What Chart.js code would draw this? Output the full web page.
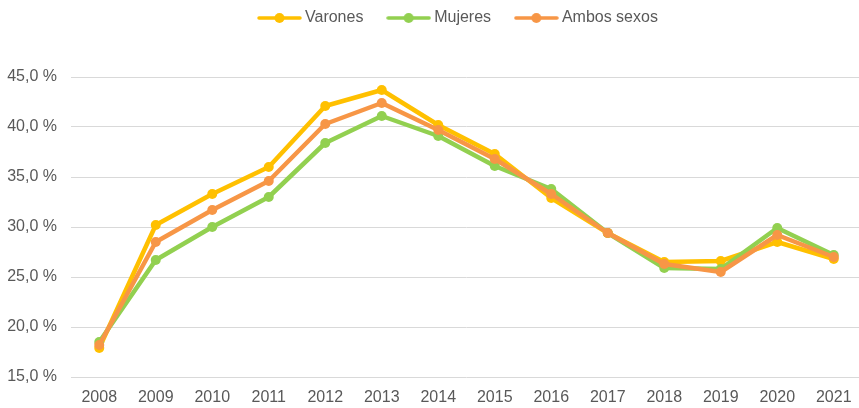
<!DOCTYPE html>
<html>
<head>
<meta charset="utf-8">
<script src="https://cdn.jsdelivr.net/npm/chart.js@4/dist/chart.umd.min.js"></script>
<style>
  html, body { margin: 0; padding: 0; background: #fff; overflow: hidden; }
  #wrap { width: 867px; height: 408px; position: relative; }
</style>
</head>
<body>
<div id="wrap"><canvas id="chart"></canvas></div>
<script>
// Years on the x axis
const years = ['2008', '2009', '2010', '2011', '2012', '2013', '2014',
               '2015', '2016', '2017', '2018', '2019', '2020', '2021'];

// Percentages
const varones = [17.9, 30.2, 33.3, 36.0, 42.1, 43.7, 40.2, 37.3, 32.9, 29.4, 26.5, 26.6, 28.5, 26.8];
const mujeres = [18.5, 26.7, 30.0, 33.0, 38.4, 41.1, 39.1, 36.1, 33.8, 29.4, 25.9, 25.8, 29.9, 27.2];
const ambos   = [18.2, 28.5, 31.7, 34.6, 40.3, 42.4, 39.7, 36.8, 33.3, 29.4, 26.3, 25.5, 29.2, 27.0];

const seriesNames = ['Varones', 'Mujeres', 'Ambos sexos'];
const seriesColors = ['#FFC000', '#92D050', '#F79646'];

// y axis range
const yMin = 15;
const yMax = 45;
const yStep = 5;

const textColor = '#595959';
const fontFamily = '"Liberation Sans", Arial, sans-serif';

// Legend marker: a short line with a dot on it
function legendMarker(color) {
  const c = document.createElement('canvas');
  c.width = 45;
  c.height = 12;
  const g = c.getContext('2d');
  g.strokeStyle = color;
  g.lineWidth = 3.5;
  g.lineCap = 'round';
  g.beginPath();
  g.moveTo(2, 6);
  g.lineTo(43, 6);
  g.stroke();
  g.fillStyle = color;
  g.beginPath();
  g.arc(22.5, 6, 5, 0, Math.PI * 2);
  g.fill();
  return c;
}

// Make room between legend and plot, and place the legend like the original
const legendPlacement = {
  id: 'legendPlacement',
  beforeInit(chart) {
    const fit = chart.legend.fit;
    chart.legend.fit = function () {
      fit.call(this);
      this.height = 77;
    };
  },
  afterLayout(chart) {
    chart.legend.left = 252;
  }
};

const datasets = [varones, mujeres, ambos].map((values, i) => ({
  label: seriesNames[i],
  data: values,
  borderColor: seriesColors[i],
  backgroundColor: seriesColors[i],
  pointBackgroundColor: seriesColors[i],
  pointBorderColor: seriesColors[i],
  borderWidth: 4.5,
  pointRadius: 5,
  pointBorderWidth: 0,
  tension: 0,
  borderJoinStyle: 'round',
  borderCapStyle: 'round',
  order: 3 - i
}));

new Chart(document.getElementById('chart'), {
  type: 'line',
  data: { labels: years, datasets: datasets },
  plugins: [legendPlacement],
  options: {
    responsive: true,
    maintainAspectRatio: false,
    animation: false,
    layout: { padding: { top: 0, right: 1, bottom: 1, left: 0 } },
    plugins: {
      tooltip: { enabled: false },
      legend: {
        position: 'top',
        align: 'start',
        labels: {
          usePointStyle: true,
          pointStyleWidth: 35,
          boxHeight: 12,
          padding: 10,
          color: textColor,
          font: { family: fontFamily, size: 16 },
          generateLabels(chart) {
            return chart.data.datasets.map((ds, i) => ({
              text: ds.label + '    ',
              fillStyle: ds.borderColor,
              strokeStyle: ds.borderColor,
              lineWidth: 0,
              pointStyle: legendMarker(ds.borderColor),
              hidden: false,
              datasetIndex: i,
              fontColor: textColor
            }));
          }
        }
      }
    },
    scales: {
      x: {
        offset: true,
        afterFit(scale) { scale.height = 30; },
        grid: { display: false, drawTicks: false },
        border: { display: false },
        ticks: {
          color: textColor,
          padding: 11,
          maxRotation: 0,
          autoSkip: false,
          font: { family: fontFamily, size: 16 }
        }
      },
      y: {
        min: yMin,
        max: yMax,
        afterFit(scale) { scale.width = 71; },
        grid: { color: '#d9d9d9', lineWidth: 1, drawTicks: false },
        border: { display: false },
        ticks: {
          stepSize: yStep,
          color: textColor,
          padding: 14,
          font: { family: fontFamily, size: 16 },
          callback: (v) => v.toFixed(1).replace('.', ',') + ' %'
        }
      }
    }
  }
});
</script>
</body>
</html>
